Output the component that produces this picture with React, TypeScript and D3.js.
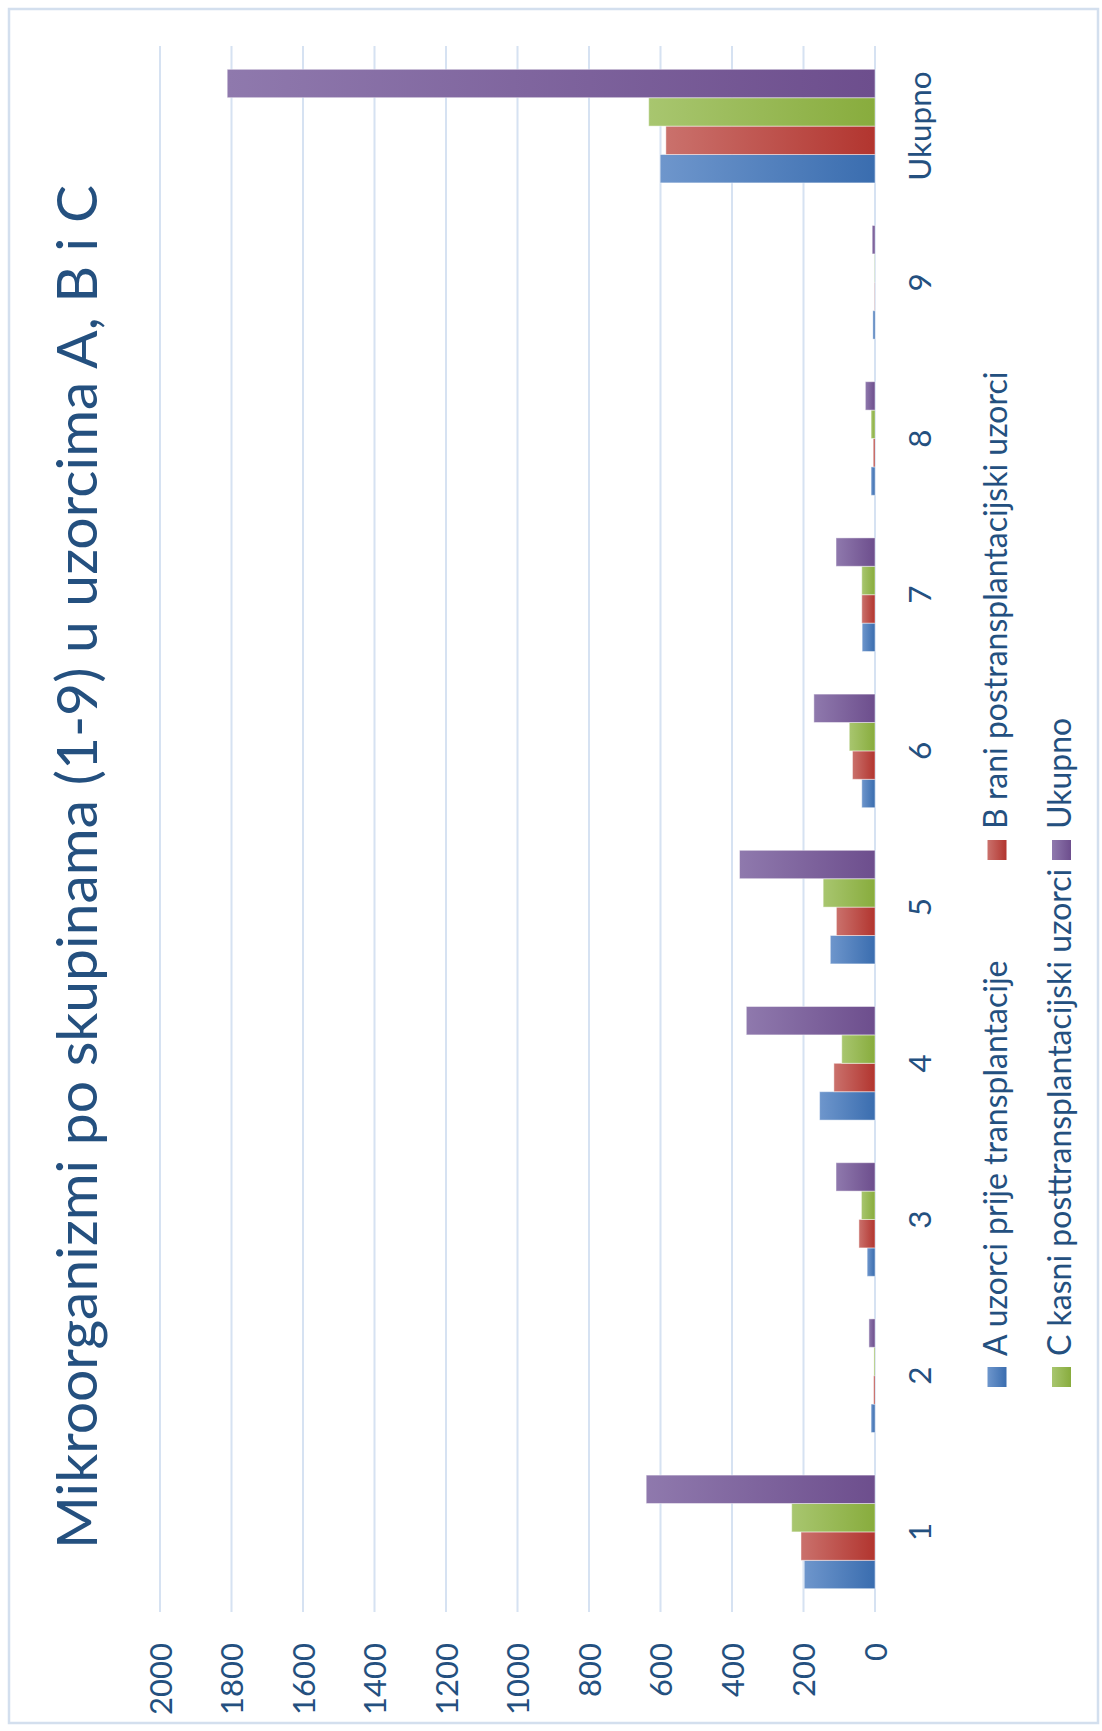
import React from 'react';
import * as d3 from 'd3';

const categories = ['1', '2', '3', '4', '5', '6', '7', '8', '9', 'Ukupno'];
const seriesNames = [
  'A uzorci prije transplantacije',
  'B rani postransplantacijski uzorci',
  'C kasni posttransplantacijski uzorci',
  'Ukupno',
];
const seriesA = [198, 11, 22, 155, 125, 37, 36, 11, 6, 601];
const seriesB = [207, 4, 45, 115, 108, 63, 37, 5, 1, 585];
const seriesC = [233, 3, 38, 93, 145, 72, 37, 11, 1, 633];
const seriesTotal = [640, 17, 109, 360, 379, 171, 109, 27, 8, 1812];
const valueTicks = [0, 200, 400, 600, 800, 1000, 1200, 1400, 1600, 1800, 2000];
const title = 'Mikroorganizmi po skupinama (1-9) u uzorcima A, B i C';

// light -> dark, tip of the bar is the light end
const colors = [
  ['#6e96cc', '#3a6daf'],
  ['#ca716c', '#b2352f'],
  ['#a8c66f', '#88ac3d'],
  ['#8f79ad', '#6d4e8d'],
];

const W = 1102;
const H = 1731;
const FONT = 'Lato, "Open Sans", sans-serif';
const TEXT = '#24507f';

const App = () => {
  const values = [seriesA, seriesB, seriesC, seriesTotal];

  const x = d3.scaleLinear().domain([0, 2000]).range([875, 160]);
  const y = d3
    .scaleBand()
    .domain([...categories].reverse())
    .range([48, 1610])
    .paddingInner(1.5 / 5.5)
    .paddingOuter(0.75 / 5.5);
  // inside a group: A at the bottom, Ukupno on top
  const sub = d3
    .scaleBand()
    .domain(['3', '2', '1', '0'])
    .range([0, y.bandwidth()]);

  const legend = [
    { i: 0, col: 1006.5, pos: 1387 },
    { i: 1, col: 1006.5, pos: 860 },
    { i: 2, col: 1071, pos: 1387 },
    { i: 3, col: 1071, pos: 860 },
  ];

  return (
    <svg
      width={W}
      height={H}
      style={{ position: 'absolute', left: 0, top: 0, background: '#fff' }}
      fontFamily={FONT}
    >
      <defs>
        {colors.map((c, i) => (
          <linearGradient key={i} id={`g${i}`} x1="0" x2="1" y1="0" y2="0">
            <stop offset="0%" stopColor={c[0]} />
            <stop offset="100%" stopColor={c[1]} />
          </linearGradient>
        ))}
      </defs>

      <rect x={9} y={9} width={1089} height={1714} fill="#fff" stroke="#d3dfee" strokeWidth={2.5} />

      {/* gridlines */}
      {valueTicks.map(t => (
        <line
          key={t}
          x1={x(t)}
          x2={x(t)}
          y1={46}
          y2={1612}
          stroke="#d6e2f2"
          strokeWidth={2}
        />
      ))}

      {/* bars */}
      {values.map((vals, s) => (
        <g key={s}>
          {vals.map((v, c) => (
            <rect
              key={c}
              x={x(v)}
              y={(y(categories[c]) as number) + (sub(String(s)) as number)}
              width={x(0) - x(v)}
              height={sub.bandwidth()}
              fill={`url(#g${s})`}
              stroke="#ffffff"
              strokeOpacity={0.45}
              strokeWidth={1}
            />
          ))}
        </g>
      ))}

      {/* value axis labels */}
      {valueTicks.map(t => (
        <text
          key={t}
          transform={`translate(${x(t) + 11.5},1643) rotate(-90)`}
          textAnchor="end"
          fontSize={31}
          fill={TEXT}
        >
          {t}
        </text>
      ))}

      {/* category labels */}
      {categories.map(c => (
        <text
          key={c}
          transform={`translate(931,${(y(c) as number) + y.bandwidth() / 2}) rotate(-90)`}
          textAnchor="middle"
          fontSize={31.5}
          fill={TEXT}
        >
          {c}
        </text>
      ))}

      {/* title */}
      <text
        transform="translate(97,1549) rotate(-90)"
        textAnchor="start"
        fontSize={57}
        fill={TEXT}
      >
        {title}
      </text>

      {/* legend */}
      {legend.map(l => (
        <g key={l.i}>
          <rect
            x={l.col - 19}
            y={l.pos - 20}
            width={19}
            height={20}
            fill={`url(#g${l.i})`}
          />
          <text
            transform={`translate(${l.col},${l.pos - 31}) rotate(-90)`}
            textAnchor="start"
            fontSize={32}
            fill={TEXT}
          >
            {seriesNames[l.i]}
          </text>
        </g>
      ))}
    </svg>
  );
};

export default App;
